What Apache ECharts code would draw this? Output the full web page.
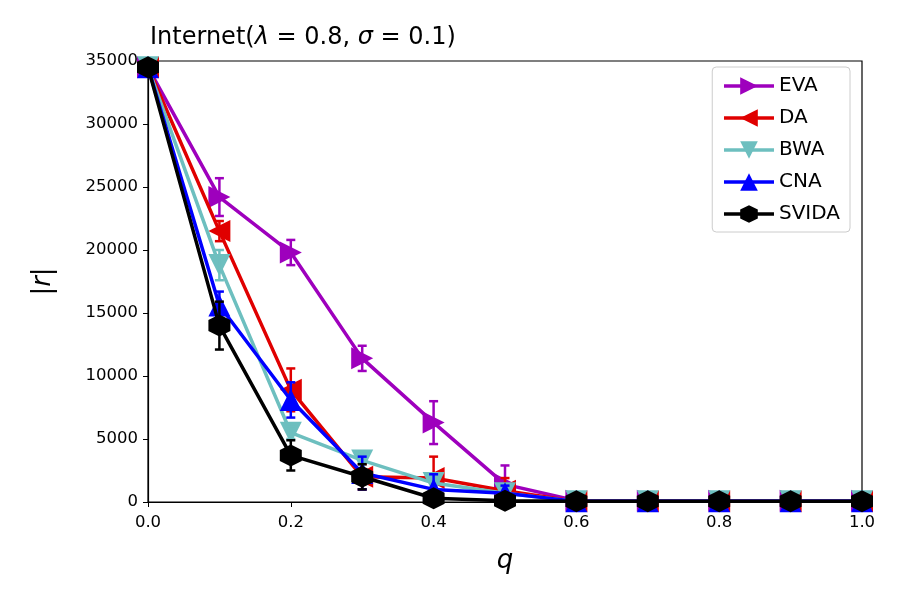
<!DOCTYPE html>
<html>
<head>
<meta charset="utf-8">
<script src="https://cdn.jsdelivr.net/npm/echarts@6/dist/echarts.min.js"></script>
<style>
  html, body { margin: 0; padding: 0; background: #fff; }
  #chart { width: 900px; height: 600px; }
</style>
</head>
<body>
<div id="chart"></div>
<script>
// q values on the x axis
var qValues = [0.0, 0.1, 0.2, 0.3, 0.4, 0.5, 0.6, 0.7, 0.8, 0.9, 1.0];

// |r| per method
var evaValues   = [34500, 24200, 19800, 11400, 6300, 1400, 100, 100, 100, 100, 100];
var daValues    = [34500, 21500,  8900,  2000, 1900,  900,  50,  50,  50,  50,  50];
var bwaValues   = [34500, 18800,  5500,  3300, 1500,  700,  50,  50,  50,  50,  50];
var cnaValues   = [34500, 15600,  8100,  2300, 1000,  700,  50,  50,  50,  50,  50];
var svidaValues = [34500, 14000,  3700,  2000,  300,  100,  50,  50,  50,  50,  50];

// error bar half-lengths
var evaErr   = [300, 1500, 1000, 1000, 1700, 1500, 0, 0, 0, 0, 0];
var daErr    = [400,  800, 1700, 1000, 1700, 1000, 0, 0, 0, 0, 0];
var bwaErr   = [300, 1200,  500,  700,  500,  500, 0, 0, 0, 0, 0];
var cnaErr   = [300, 1100, 1400, 1300, 1200,  600, 0, 0, 0, 0, 0];
var svidaErr = [300, 1900, 1200, 1000,  200,  100, 0, 0, 0, 0, 0];

var yTicks = [0, 5000, 10000, 15000, 20000, 25000, 30000, 35000];

var hexagon = 'path://M0,-1 L0.866,-0.5 L0.866,0.5 L0,1 L-0.866,0.5 L-0.866,-0.5 Z';

var methods = [
  { name: 'EVA',   values: evaValues,   err: evaErr,   color: '#9e00bd', symbol: 'triangle', rotate: -90 },
  { name: 'DA',    values: daValues,    err: daErr,    color: '#e00000', symbol: 'triangle', rotate: 90 },
  { name: 'BWA',   values: bwaValues,   err: bwaErr,   color: '#6dbfbf', symbol: 'triangle', rotate: 180 },
  { name: 'CNA',   values: cnaValues,   err: cnaErr,   color: '#0000ff', symbol: 'triangle', rotate: 0 },
  { name: 'SVIDA', values: svidaValues, err: svidaErr, color: '#000000', symbol: hexagon,    rotate: 0 }
];

var series = [];
methods.forEach(function(m, k) {
  series.push({
    name: m.name,
    type: 'line',
    data: qValues.map(function(q, i) { return [q, m.values[i]]; }),
    symbol: m.symbol,
    symbolRotate: m.rotate,
    symbolSize: 22,
    lineStyle: { color: m.color, width: 3.5 },
    itemStyle: { color: m.color },
    z: 10 + k * 2
  });
  series.push({
    name: m.name,
    type: 'custom',
    data: qValues.map(function(q, i) { return [q, m.values[i] - m.err[i], m.values[i] + m.err[i]]; }),
    z: 11 + k * 2,
    renderItem: function(params, api) {
      var lo = api.coord([api.value(0), api.value(1)]);
      var hi = api.coord([api.value(0), api.value(2)]);
      var cap = 4.5;
      var st = { stroke: m.color, lineWidth: 2.5 };
      return {
        type: 'group',
        children: [
          { type: 'line', shape: { x1: lo[0], y1: lo[1], x2: hi[0], y2: hi[1] }, style: st },
          { type: 'line', shape: { x1: lo[0] - cap, y1: lo[1], x2: lo[0] + cap, y2: lo[1] }, style: st },
          { type: 'line', shape: { x1: hi[0] - cap, y1: hi[1], x2: hi[0] + cap, y2: hi[1] }, style: st }
        ]
      };
    },
    encode: { x: 0, y: [1, 2] },
    silent: true
  });
});

var chart = echarts.init(document.getElementById('chart'));
var option = {
  animation: false,
  backgroundColor: '#fff',
  textStyle: { fontFamily: 'DejaVu Sans' },
  title: {
    text: 'Internet({i|λ} = 0.8, {i|σ} = 0.1)',
    left: 145,
    top: 21,
    textStyle: {
      fontSize: 24,
      fontWeight: 'normal',
      color: '#000',
      fontFamily: 'DejaVu Sans',
      rich: { i: { fontSize: 24, fontStyle: 'italic', fontFamily: 'DejaVu Sans', color: '#000' } }
    }
  },
  legend: {
    data: methods.map(function(m) { return m.name; }),
    orient: 'vertical',
    right: 50,
    top: 67,
    itemWidth: 50,
    itemHeight: 22,
    itemGap: 12,
    padding: [9, 10, 8, 10],
    lineStyle: { width: 3.5 },
    backgroundColor: '#fff',
    borderColor: '#cccccc',
    borderWidth: 1,
    borderRadius: 4,
    textStyle: { fontSize: 20, color: '#000', fontFamily: 'DejaVu Sans' }
  },
  grid: {
    left: 148,
    right: 38,
    top: 61,
    bottom: 98,
    show: true,
    borderColor: '#000',
    borderWidth: 1.2,
    backgroundColor: 'transparent'
  },
  xAxis: {
    type: 'value',
    min: 0,
    max: 1,
    interval: 0.2,
    name: 'q',
    nameLocation: 'middle',
    nameGap: 46,
    nameTextStyle: { fontSize: 26, fontStyle: 'italic', color: '#000', fontFamily: 'DejaVu Sans' },
    axisLine: { lineStyle: { color: '#000', width: 1.2 } },
    axisTick: { show: true, length: 5, lineStyle: { color: '#000' } },
    axisLabel: {
      fontSize: 16.5, color: '#000', margin: 12,
      formatter: function(v) { return v.toFixed(1); }
    },
    splitLine: { show: false }
  },
  yAxis: {
    type: 'value',
    min: yTicks[0],
    max: yTicks[yTicks.length - 1],
    interval: yTicks[1] - yTicks[0],
    name: '|r|',
    nameLocation: 'middle',
    nameGap: 92,
    nameRotate: 90,
    nameTextStyle: { fontSize: 26, fontStyle: 'italic', color: '#000', fontFamily: 'DejaVu Sans' },
    axisLine: { show: true, lineStyle: { color: '#000', width: 1.2 } },
    axisTick: { show: true, length: 5, lineStyle: { color: '#000' } },
    axisLabel: {
      fontSize: 16.5, color: '#000', margin: 10,
      formatter: function(v) { return String(v); }
    },
    splitLine: { show: false }
  },
  series: series
};
option && chart.setOption(option);
</script>
</body>
</html>
